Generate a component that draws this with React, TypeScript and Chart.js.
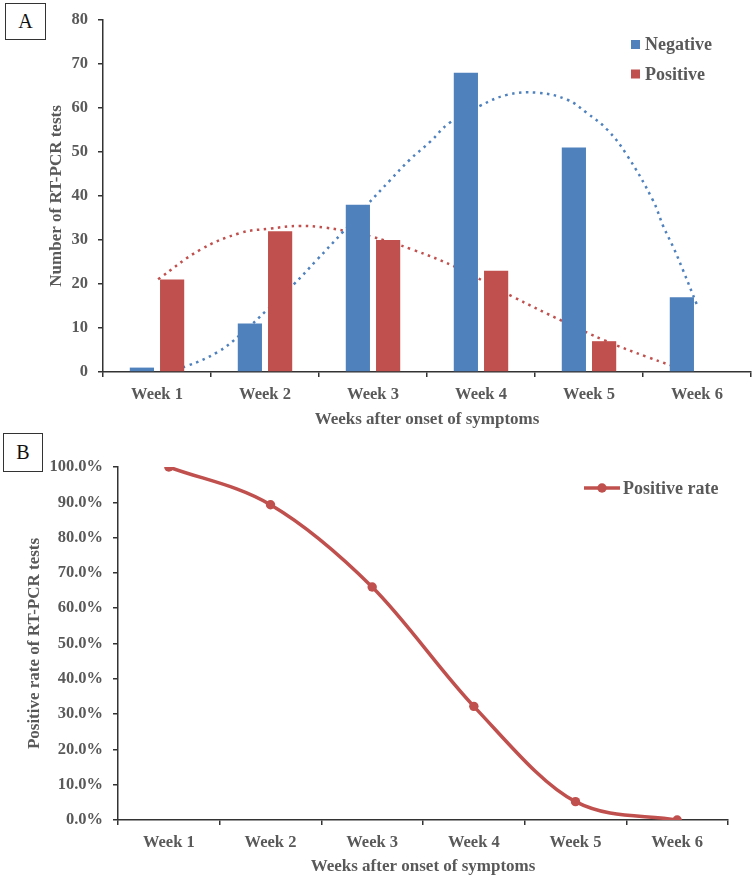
import React, { useEffect, useRef } from 'react';
import { Chart, registerables } from 'chart.js';

Chart.register(...registerables);

// ---------- data ----------
const weekLabels = ['Week 1', 'Week 2', 'Week 3', 'Week 4', 'Week 5', 'Week 6'];
const negativeCounts = [1, 11, 38, 68, 51, 17];
const positiveCounts = [21, 32, 30, 23, 7, 0];

// dotted trend curves (x = category index position)
const negativeTrendX = [0.05, 0.28, 0.56, 0.77, 1.02, 1.26, 1.48, 1.72, 1.95, 2.16, 2.34, 2.53, 2.71, 2.99, 3.24, 3.52, 3.8, 3.98, 4.17, 4.35, 4.59, 4.69, 4.78, 4.87, 5.0];
const negativeTrendY = [0, 1.4, 4.5, 8.4, 14.1, 19.7, 25.4, 31.7, 38.0, 43.5, 48.1, 52.2, 56.5, 60.3, 62.8, 63.3, 61.7, 58.7, 54.9, 49.2, 39.0, 32.9, 28.3, 23.1, 15.2];
const positiveTrendX = [0.01, 0.4, 0.77, 1.05, 1.32, 1.56, 1.76, 1.97, 2.37, 2.78, 3.3, 3.75, 4.15, 4.54, 4.94];
const positiveTrendY = [21, 27.7, 31.5, 32.5, 33.1, 32.7, 31.9, 30.8, 27.7, 23.6, 17.0, 11.6, 7.1, 3.4, 0];

const positiveRate = [100, 89.3, 66.0, 32.2, 5.2, 0];

const countAxisMax = 80;
const countAxisStep = 10;
const rateAxisMax = 100;
const rateAxisStep = 10;

// ---------- style ----------
const BLUE = '#4F81BD';
const RED = '#C0504D';
const TEXT = '#595959';
const AXIS = '#333333';
const FONT = "'Liberation Serif', 'Times New Roman', serif";

// chart A plot-area geometry (shared by bar canvas and trend canvas)
const A_W = 755;
const A_H = 430;
const A_LEFT = 103;
const A_RIGHT_PAD = 4;
const A_TOP = 19;
const A_BOTTOM_BAND = 58;

const legendPlugin = {
  id: 'customLegend',
  afterDraw(chart: any, _args: any, opts: any) {
    if (!opts || !opts.items) return;
    const ctx = chart.ctx;
    ctx.save();
    ctx.font = `bold ${opts.fontSize}px ${FONT}`;
    ctx.textBaseline = 'middle';
    ctx.textAlign = 'left';
    let y = opts.y;
    opts.items.forEach((idx: number) => {
      const ds = chart.data.datasets[idx];
      const color = opts.kind === 'line' ? ds.borderColor : ds.backgroundColor;
      if (opts.kind === 'box') {
        ctx.fillStyle = color;
        ctx.fillRect(opts.x, y - 4.5, 9, 9);
        ctx.fillStyle = TEXT;
        ctx.fillText(ds.label, opts.x + 14, y + 1);
      } else {
        ctx.strokeStyle = color;
        ctx.lineWidth = 3.5;
        ctx.beginPath();
        ctx.moveTo(opts.x, y);
        ctx.lineTo(opts.x + 36, y);
        ctx.stroke();
        ctx.fillStyle = color;
        ctx.beginPath();
        ctx.arc(opts.x + 18, y, 4.7, 0, Math.PI * 2);
        ctx.fill();
        ctx.fillStyle = TEXT;
        ctx.fillText(ds.label, opts.x + 39, y + 1);
      }
      y += opts.spacing;
    });
    ctx.restore();
  },
};

const tickFont = { family: FONT, size: 16.5, weight: 'bold' as const };
const titleFont = { family: FONT, size: 17, weight: 'bold' as const };

function TrendChart() {
  const ref = useRef<HTMLCanvasElement>(null);
  useEffect(() => {
    if (!ref.current) return;
    const chart = new Chart(ref.current, {
      type: 'line',
      data: {
        datasets: [
          {
            label: 'Negative trend',
            data: negativeTrendX.map((x, i) => ({ x, y: negativeTrendY[i] })),
            borderColor: BLUE,
            borderWidth: 2.5,
            borderDash: [2.5, 4.5],
            pointRadius: 0,
            tension: 0.4,
            fill: false,
          },
          {
            label: 'Positive trend',
            data: positiveTrendX.map((x, i) => ({ x, y: positiveTrendY[i] })),
            borderColor: RED,
            borderWidth: 2.5,
            borderDash: [2.5, 4.5],
            pointRadius: 0,
            tension: 0.4,
            fill: false,
          },
        ],
      },
      options: {
        responsive: false,
        animation: false,
        devicePixelRatio: 1,
        layout: { padding: { top: A_TOP, right: A_RIGHT_PAD, left: A_LEFT, bottom: A_BOTTOM_BAND } },
        plugins: { legend: { display: false }, tooltip: { enabled: false } },
        scales: {
          x: { type: 'linear', display: false, min: -0.5, max: 5.5, offset: false },
          y: { type: 'linear', display: false, min: 0, max: countAxisMax },
        },
      },
    });
    return () => chart.destroy();
  }, []);
  return <canvas ref={ref} width={A_W} height={A_H} style={{ display: 'block' }} />;
}

function CountsChart() {
  const ref = useRef<HTMLCanvasElement>(null);
  useEffect(() => {
    if (!ref.current) return;
    const chart = new Chart(ref.current, {
      type: 'bar',
      data: {
        labels: weekLabels,
        datasets: [
          {
            label: 'Negative',
            data: negativeCounts,
            backgroundColor: BLUE,
            categoryPercentage: 0.56,
            barPercentage: 0.8,
          },
          {
            label: 'Positive',
            data: positiveCounts,
            backgroundColor: RED,
            categoryPercentage: 0.56,
            barPercentage: 0.8,
          },
        ],
      },
      options: {
        responsive: false,
        animation: false,
        devicePixelRatio: 1,
        layout: { padding: { top: A_TOP, right: A_RIGHT_PAD, left: 0, bottom: 0 } },
        plugins: {
          legend: { display: false },
          tooltip: { enabled: false },
          customLegend: { items: [0, 1], kind: 'box', x: 631, y: 44.5, spacing: 29.5, fontSize: 18 },
        } as any,
        scales: {
          x: {
            type: 'category',
            offset: true,
            grid: { display: true, offset: true, drawOnChartArea: false, drawTicks: true, tickLength: 5, color: AXIS, lineWidth: 1.5 },
            border: { display: true, color: AXIS, width: 1.5 },
            ticks: { font: tickFont, color: TEXT, padding: 8, maxRotation: 0 },
            title: { display: true, text: 'Weeks after onset of symptoms', font: titleFont, color: TEXT, padding: { top: 0, bottom: 0 } },
            afterFit: (s: any) => { s.height = A_BOTTOM_BAND; },
          },
          y: {
            min: 0,
            max: countAxisMax,
            grid: { display: true, drawOnChartArea: false, drawTicks: true, tickLength: 5, color: AXIS, lineWidth: 1.5 },
            border: { display: true, color: AXIS, width: 1.5 },
            ticks: { stepSize: countAxisStep, font: tickFont, color: TEXT, padding: 10 },
            title: { display: true, text: 'Number of RT-PCR tests', font: titleFont, color: TEXT, padding: { top: 46.8, bottom: 0 } },
            afterFit: (s: any) => { s.width = A_LEFT; },
          },
        } as any,
      },
      plugins: [legendPlugin],
    });
    return () => chart.destroy();
  }, []);
  return <canvas ref={ref} width={A_W} height={A_H} style={{ display: 'block' }} />;
}

function RateChart() {
  const ref = useRef<HTMLCanvasElement>(null);
  useEffect(() => {
    if (!ref.current) return;
    const chart = new Chart(ref.current, {
      type: 'line',
      data: {
        labels: weekLabels,
        datasets: [
          {
            label: 'Positive rate',
            data: positiveRate,
            borderColor: RED,
            backgroundColor: RED,
            borderWidth: 3.5,
            pointRadius: 4.7,
            pointBackgroundColor: RED,
            pointBorderWidth: 0,
            cubicInterpolationMode: 'monotone',
            fill: false,
          } as any,
        ],
      },
      options: {
        responsive: false,
        animation: false,
        devicePixelRatio: 1,
        layout: { padding: { top: 37, right: 27, left: 0, bottom: 0 } },
        plugins: {
          legend: { display: false },
          tooltip: { enabled: false },
          customLegend: { items: [0], kind: 'line', x: 584, y: 58, spacing: 0, fontSize: 18 },
        } as any,
        scales: {
          x: {
            type: 'category',
            offset: true,
            grid: { display: true, offset: true, drawOnChartArea: false, drawTicks: true, tickLength: 5, color: AXIS, lineWidth: 1.5 },
            border: { display: true, color: AXIS, width: 1.5 },
            ticks: { font: tickFont, color: TEXT, padding: 8, maxRotation: 0 },
            title: { display: true, text: 'Weeks after onset of symptoms', font: titleFont, color: TEXT, padding: { top: 0, bottom: 0 } },
            afterFit: (s: any) => { s.height = 57; },
          },
          y: {
            min: 0,
            max: rateAxisMax,
            grid: { display: true, drawOnChartArea: false, drawTicks: true, tickLength: 5, color: AXIS, lineWidth: 1.5 },
            border: { display: true, color: AXIS, width: 1.5 },
            ticks: {
              stepSize: rateAxisStep,
              font: tickFont,
              color: TEXT,
              padding: 10,
              callback: (v: any) => Number(v).toFixed(1) + '%',
            },
            title: { display: true, text: 'Positive rate of RT-PCR tests', font: titleFont, color: TEXT, padding: { top: 24.8, bottom: 0 } },
            afterFit: (s: any) => { s.width = 118; },
          },
        } as any,
      },
      plugins: [legendPlugin],
    });
    return () => chart.destroy();
  }, []);
  return <canvas ref={ref} width={755} height={447} style={{ display: 'block' }} />;
}

const panelLabel: React.CSSProperties = {
  position: 'absolute',
  border: '1.5px solid #333',
  boxSizing: 'border-box',
  fontFamily: FONT,
  fontSize: 20,
  color: '#111',
  display: 'flex',
  alignItems: 'center',
  justifyContent: 'center',
  background: '#fff',
};

export default function App() {
  return (
    <div style={{ position: 'absolute', left: 0, top: 0, width: 755, height: 877, background: '#fff' }}>
      <div style={{ position: 'absolute', left: 0, top: 0, width: A_W, height: A_H, zIndex: 0 }}>
        <TrendChart />
      </div>
      <div style={{ position: 'absolute', left: 0, top: 0, width: A_W, height: A_H, zIndex: 1 }}>
        <CountsChart />
      </div>
      <div style={{ position: 'absolute', left: 0, top: 430, width: 755, height: 447 }}>
        <RateChart />
      </div>
      <div style={{ ...panelLabel, left: 5, top: 3, width: 41, height: 37, zIndex: 2 }}>A</div>
      <div style={{ ...panelLabel, left: 3, top: 433, width: 40, height: 39, zIndex: 2 }}>B</div>
    </div>
  );
}
